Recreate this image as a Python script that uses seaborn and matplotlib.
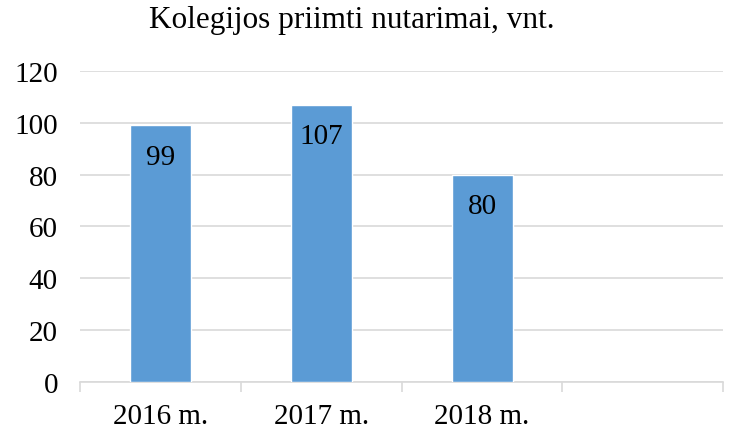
import numpy as np
import pandas as pd
import matplotlib
matplotlib.use("Agg")
import matplotlib.pyplot as plt
import seaborn as sns

years = ["2016 m.", "2017 m.", "2018 m.", ""]
decisions = [99, 107, 80, np.nan]
yticks = [0, 20, 40, 60, 80, 100, 120]

sns.set_style("white")
plt.rcParams["font.family"] = ["Liberation Serif", "DejaVu Serif"]
plt.rcParams["text.color"] = "black"
plt.rcParams["xtick.color"] = "black"
plt.rcParams["ytick.color"] = "black"

df = pd.DataFrame({"year": years, "value": decisions})

fig = plt.figure(figsize=(7.35, 4.31), dpi=100)
ax = fig.add_axes([0.109, 0.1114, 0.875, 0.7216])

sns.barplot(data=df, x="year", y="value", order=years, color="#5B9BD5",
            saturation=1, width=0.38, ax=ax, zorder=3)

# labels inside bars
for c in ax.containers:
    ax.bar_label(c, labels=[f"{v:.0f}" for v in decisions[:len(c)]],
                 padding=-32, fontsize=21, color="black")

ax.set_ylim(0, 120)
ax.set_yticks(yticks)
ax.set_xlim(-0.5, len(years) - 0.5)
ax.yaxis.grid(True, color="#D9D9D9", linewidth=1.2, zorder=0)
ax.set_axisbelow(True)

# ticks between categories, labels centered
ax.set_xticks(np.arange(len(years)))
ax.set_xticklabels(years)
ax.set_xticks(np.arange(len(years) + 1) - 0.5, minor=True)
ax.tick_params(axis="x", which="major", length=0, pad=15, labelsize=21,
               labelcolor="black")
ax.tick_params(axis="x", which="minor", bottom=True, length=7,
               color="#D9D9D9", width=1.2)
ax.tick_params(axis="y", length=0, pad=16, labelsize=21, labelcolor="black")

for s in ["left", "right", "top"]:
    ax.spines[s].set_visible(False)
ax.spines["bottom"].set_color("#D9D9D9")
ax.spines["bottom"].set_linewidth(1.2)

ax.set_xlabel("")
ax.set_ylabel("")
fig.text(0.479, 0.953, "Kolegijos priimti nutarimai, vnt.", fontsize=22.5,
         ha="center", va="center", color="black")

fig.savefig("out.png", dpi=100)
